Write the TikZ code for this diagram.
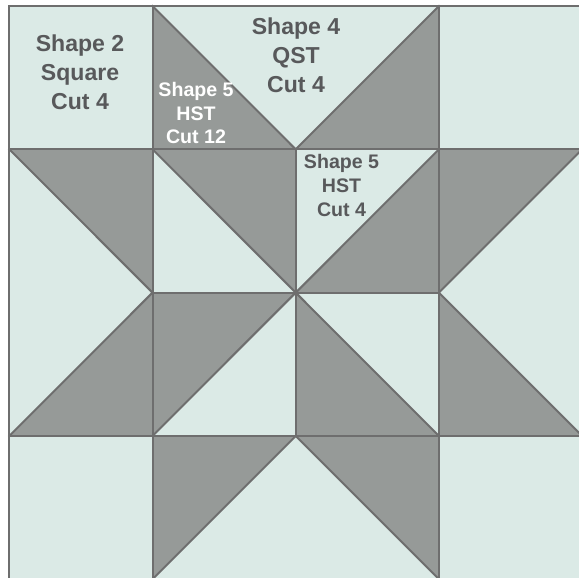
\documentclass[tikz,border=0pt]{standalone}
\usepackage{fontspec}
\setmainfont{Liberation Sans}
\definecolor{lightfill}{HTML}{DBEAE6}
\definecolor{darkfill}{HTML}{969A98}
\definecolor{seam}{HTML}{6E6E6E}
\definecolor{darktext}{HTML}{58595B}
\tikzset{
  seamline/.style={draw=seam, line width=1.5pt, line join=miter, line cap=rect},
  darktri/.style={fill=darkfill},
  bigtext/.style={align=center, text=darktext, font=\bfseries\fontsize{17.3pt}{21.9pt}\selectfont, inner sep=0pt},
  smalldark/.style={align=center, text=darktext, font=\bfseries\fontsize{14.7pt}{18.1pt}\selectfont, inner sep=0pt},
  smallwhite/.style={align=center, text=white, font=\bfseries\fontsize{14.7pt}{17.8pt}\selectfont, inner sep=0pt}
}
\begin{document}
\begin{tikzpicture}[x={(107.4pt,0)}, y={(0,-107.475pt)}]
\useasboundingbox (-0.0649,-0.0419) rectangle (3.978,3.9847);
\fill[white] (-0.0649,-0.0419) rectangle (3.978,3.9847);
\clip (-0.0649,-0.0419) rectangle (3.978,3.9847);
% background
\fill[lightfill] (0,0) rectangle (4,4);
% row 0
\fill[darktri] (1,0) -- (1,1) -- (2,1) -- cycle;
\fill[darktri] (3,0) -- (3,1) -- (2,1) -- cycle;
% row 1
\fill[darktri] (0,1) -- (1,1) -- (1,2) -- cycle;
\fill[darktri] (1,1) -- (2,1) -- (2,2) -- cycle;
\fill[darktri] (3,1) -- (3,2) -- (2,2) -- cycle;
\fill[darktri] (3,1) -- (4,1) -- (3,2) -- cycle;
% row 2
\fill[darktri] (1,2) -- (1,3) -- (0,3) -- cycle;
\fill[darktri] (1,2) -- (2,2) -- (1,3) -- cycle;
\fill[darktri] (2,2) -- (2,3) -- (3,3) -- cycle;
\fill[darktri] (3,2) -- (3,3) -- (4,3) -- cycle;
% row 3
\fill[darktri] (1,3) -- (2,3) -- (1,4) -- cycle;
\fill[darktri] (2,3) -- (3,3) -- (3,4) -- cycle;
% grid seams
\foreach \i in {0,1,3,4} {
  \draw[seamline] (\i,0) -- (\i,4);
  \draw[seamline] (0,\i) -- (4,\i);
}
\draw[seamline] (2,1) -- (2,3);
\draw[seamline] (1,2) -- (3,2);
% diagonals
\draw[seamline] (1,0) -- (2,1) -- (3,0);
\draw[seamline] (0,1) -- (1,2) -- (0,3);
\draw[seamline] (1,1) -- (3,3);
\draw[seamline] (1,3) -- (3,1);
\draw[seamline] (4,1) -- (3,2) -- (4,3);
\draw[seamline] (1,4) -- (2,3) -- (3,4);
% labels
\node[bigtext] (sq) at (0.494,0.461) {Shape 2\\Square\\Cut 4};
\node[bigtext] (qst) at (2.002,0.342) {Shape 4\\QST\\Cut 4};
\node[smallwhite] (hst12) at (1.304,0.748) {Shape 5\\HST\\Cut 12};
\node[smalldark] (hst4) at (2.320,1.253) {Shape 5\\HST\\Cut 4};
\end{tikzpicture}
\end{document}
